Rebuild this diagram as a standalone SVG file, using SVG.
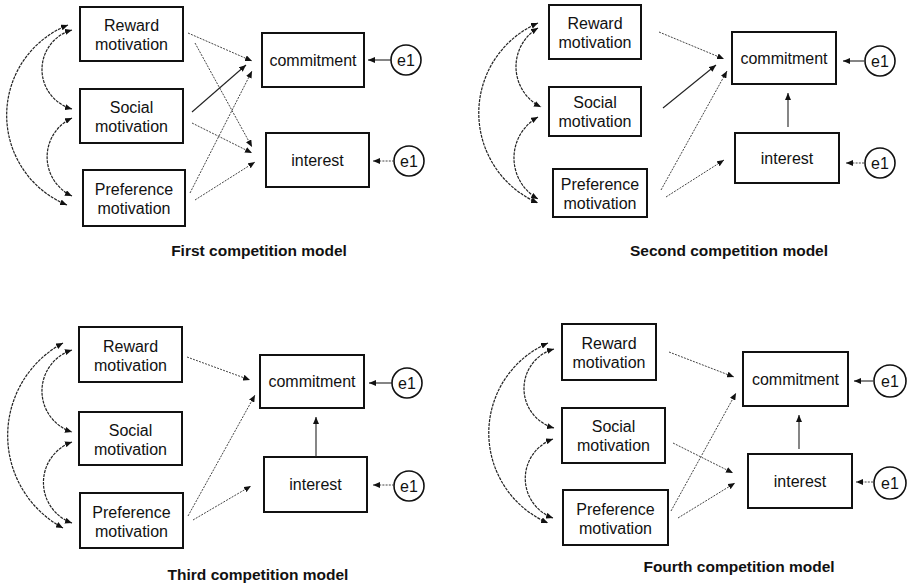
<svg xmlns="http://www.w3.org/2000/svg" width="912" height="585" viewBox="0 0 912 585">
<style>
.box{fill:#fff;stroke:#111;stroke-width:2}
.circ{fill:#fff;stroke:#111;stroke-width:1.6}
.t{font-family:"Liberation Sans",Arial,sans-serif;font-size:16px;fill:#111;text-anchor:middle}
.cap{font-family:"Liberation Sans",Arial,sans-serif;font-size:15.5px;font-weight:bold;fill:#111;text-anchor:middle}
.arr{fill:none;stroke:#444;stroke-width:1;stroke-dasharray:2 1.2;marker-end:url(#ah)}
.sol{fill:none;stroke:#222;stroke-width:1.1;marker-end:url(#ah)}
.cov{fill:none;stroke:#222;stroke-width:1.2;stroke-dasharray:3 1;marker-start:url(#ah);marker-end:url(#ah)}
</style>
<defs>
<marker id="ah" markerUnits="userSpaceOnUse" markerWidth="7" markerHeight="6" refX="7" refY="3" orient="auto-start-reverse">
<path d="M0,0 L7,3 L0,6 z" fill="#111"/>
</marker>
</defs>
<rect width="912" height="585" fill="#fff"/>

<!-- Panel 1 -->
<g id="p1">
<g id="p1-reward"><rect class="box" x="80" y="7" width="103" height="54"/><text class="t" x="131.5" y="31">Reward</text><text class="t" x="131.5" y="50">motivation</text></g>
<g id="p1-social"><rect class="box" x="80" y="89" width="103" height="54"/><text class="t" x="131.5" y="113">Social</text><text class="t" x="131.5" y="132">motivation</text></g>
<g id="p1-pref"><rect class="box" x="83" y="170" width="102" height="56"/><text class="t" x="134" y="195">Preference</text><text class="t" x="134" y="214">motivation</text></g>
<g id="p1-commit"><rect class="box" x="262" y="33" width="102" height="54"/><text class="t" x="313" y="66">commitment</text></g>
<g id="p1-interest"><rect class="box" x="266" y="133" width="103" height="54"/><text class="t" x="317.5" y="166">interest</text></g>
<g id="p1-e1a"><circle class="circ" cx="406" cy="60" r="15"/><text class="t" x="406" y="66">e1</text></g>
<g id="p1-e1b"><circle class="circ" cx="409" cy="161" r="15"/><text class="t" x="409" y="167">e1</text></g>
<g id="p1-connectors">
<path class="cov" d="M68,25 A97 97 0 0 0 67,205"/>
<path class="cov" d="M72,30 A41 41 0 0 0 72,109"/>
<path class="cov" d="M72,118 A43 43 0 0 0 72,196"/>
<path class="arr" d="M188,33 L252,61"/>
<path class="arr" d="M195,43 L252,147"/>
<path class="sol" d="M192,112 L246,65"/>
<path class="arr" d="M192,123 L252,153"/>
<path class="arr" d="M190,193 L252,71"/>
<path class="arr" d="M195,200 L255,162"/>
<path class="sol" d="M391,60 L368,60"/>
<path class="arr" d="M394,161 L373,161"/>
</g>
<text class="cap" x="259" y="256">First competition model</text>
</g>

<!-- Panel 2 -->
<g id="p2">
<g id="p2-reward"><rect class="box" x="549" y="5" width="92" height="54"/><text class="t" x="595" y="29">Reward</text><text class="t" x="595" y="48">motivation</text></g>
<g id="p2-social"><rect class="box" x="549" y="87" width="92" height="49"/><text class="t" x="595" y="108">Social</text><text class="t" x="595" y="127">motivation</text></g>
<g id="p2-pref"><rect class="box" x="553" y="169" width="94" height="48"/><text class="t" x="600" y="190">Preference</text><text class="t" x="600" y="209">motivation</text></g>
<g id="p2-commit"><rect class="box" x="732" y="32" width="104" height="52"/><text class="t" x="784" y="64">commitment</text></g>
<g id="p2-interest"><rect class="box" x="735" y="133" width="104" height="50"/><text class="t" x="787" y="164">interest</text></g>
<g id="p2-e1a"><circle class="circ" cx="880" cy="61" r="15"/><text class="t" x="880" y="67">e1</text></g>
<g id="p2-e1b"><circle class="circ" cx="880" cy="163" r="15"/><text class="t" x="880" y="169">e1</text></g>
<g id="p2-connectors">
<path class="cov" d="M538,23 A98 98 0 0 0 538,203"/>
<path class="cov" d="M538,28 A45 45 0 0 0 541,107"/>
<path class="cov" d="M538,117 A47 47 0 0 0 538,199"/>
<path class="arr" d="M659,32 L724,59"/>
<path class="sol" d="M663,108 L716,65"/>
<path class="arr" d="M661,190 L727,71"/>
<path class="arr" d="M666,197 L724,160"/>
<path class="sol" d="M788,127 L788,93"/>
<path class="sol" d="M864,61 L843,61"/>
<path class="arr" d="M864,163 L846,163"/>
</g>
<text class="cap" x="729" y="256">Second competition model</text>
</g>

<!-- Panel 3 -->
<g id="p3">
<g id="p3-reward"><rect class="box" x="79" y="327" width="103" height="55"/><text class="t" x="130.5" y="352">Reward</text><text class="t" x="130.5" y="371">motivation</text></g>
<g id="p3-social"><rect class="box" x="79" y="412" width="103" height="53"/><text class="t" x="130.5" y="436">Social</text><text class="t" x="130.5" y="455">motivation</text></g>
<g id="p3-pref"><rect class="box" x="80" y="493" width="103" height="55"/><text class="t" x="131.5" y="518">Preference</text><text class="t" x="131.5" y="537">motivation</text></g>
<g id="p3-commit"><rect class="box" x="260" y="355" width="104" height="53"/><text class="t" x="312" y="387">commitment</text></g>
<g id="p3-interest"><rect class="box" x="264" y="457" width="103" height="55"/><text class="t" x="315.5" y="490">interest</text></g>
<g id="p3-e1a"><circle class="circ" cx="407" cy="383" r="15"/><text class="t" x="407" y="389">e1</text></g>
<g id="p3-e1b"><circle class="circ" cx="409" cy="486" r="15"/><text class="t" x="409" y="492">e1</text></g>
<g id="p3-connectors">
<path class="cov" d="M63,343 A105 105 0 0 0 63,528"/>
<path class="cov" d="M72,350 A43 43 0 0 0 72,432"/>
<path class="cov" d="M72,442 A43 43 0 0 0 72,523"/>
<path class="arr" d="M187,357 L250,380"/>
<path class="arr" d="M188,516 L255,395"/>
<path class="arr" d="M193,520 L251,486"/>
<path class="sol" d="M316,457 L316,417"/>
<path class="sol" d="M392,383 L369,383"/>
<path class="arr" d="M394,485 L373,485"/>
</g>
<text class="cap" x="258" y="580">Third competition model</text>
</g>

<!-- Panel 4 -->
<g id="p4">
<g id="p4-reward"><rect class="box" x="562" y="324" width="94" height="56"/><text class="t" x="609" y="349">Reward</text><text class="t" x="609" y="368">motivation</text></g>
<g id="p4-social"><rect class="box" x="562" y="408" width="103" height="55"/><text class="t" x="613.5" y="432">Social</text><text class="t" x="613.5" y="451">motivation</text></g>
<g id="p4-pref"><rect class="box" x="563" y="490" width="105" height="55"/><text class="t" x="615.5" y="515">Preference</text><text class="t" x="615.5" y="534">motivation</text></g>
<g id="p4-commit"><rect class="box" x="743" y="352" width="105" height="54"/><text class="t" x="795.5" y="385">commitment</text></g>
<g id="p4-interest"><rect class="box" x="748" y="454" width="104" height="54"/><text class="t" x="800" y="487">interest</text></g>
<g id="p4-e1a"><circle class="circ" cx="890" cy="381" r="16"/><text class="t" x="890" y="387">e1</text></g>
<g id="p4-e1b"><circle class="circ" cx="890" cy="483" r="16"/><text class="t" x="890" y="489">e1</text></g>
<g id="p4-connectors">
<path class="cov" d="M548,343 A98 98 0 0 0 548,523"/>
<path class="cov" d="M554,349 A41 41 0 0 0 554,428"/>
<path class="cov" d="M553,439 A42 42 0 0 0 553,518"/>
<path class="arr" d="M669,352 L734,377"/>
<path class="arr" d="M673,443 L733,473"/>
<path class="arr" d="M671,511 L736,393"/>
<path class="arr" d="M678,518 L735,483"/>
<path class="sol" d="M799,449 L799,415"/>
<path class="sol" d="M873,381 L854,381"/>
<path class="arr" d="M873,482 L856,482"/>
</g>
<text class="cap" x="739" y="572">Fourth competition model</text>
</g>
</svg>
